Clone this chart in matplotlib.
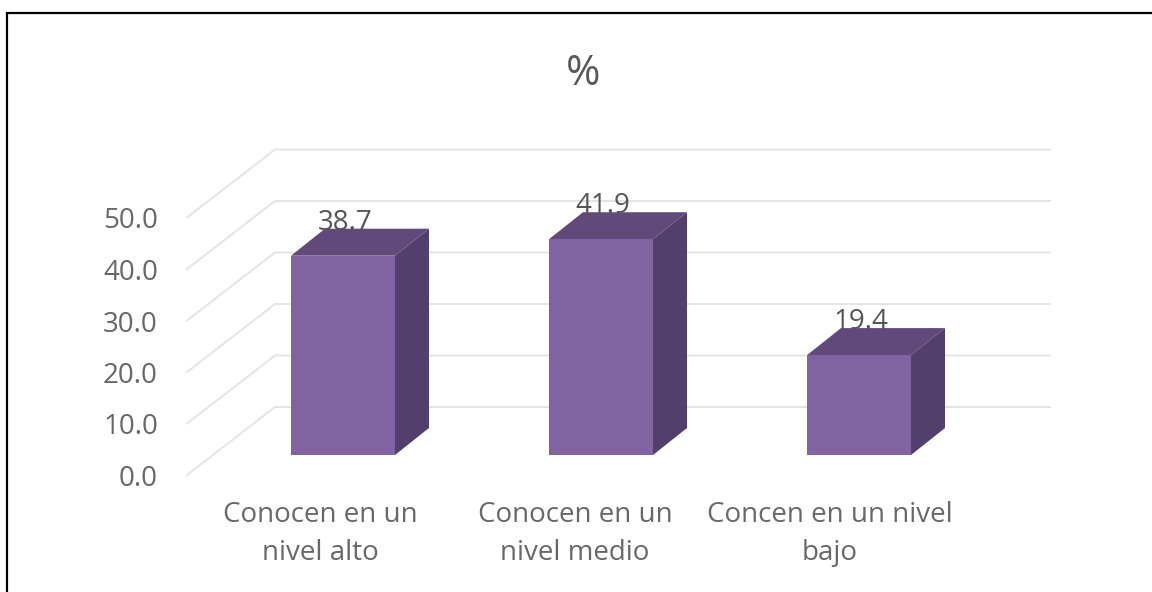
import matplotlib
matplotlib.use('Agg')
import matplotlib.pyplot as plt
from matplotlib.patches import Polygon
import numpy as np

categories = ['Conocen en un\nnivel alto', 'Conocen en un\nnivel medio', 'Concen en un nivel\nbajo']
values = [38.7, 41.9, 19.4]
y_ticks = [0, 10, 20, 30, 40, 50]
title = '%'

plt.rcParams['font.family'] = ['Open Sans', 'DejaVu Sans']

W, H = 1152, 592
PX_X = 258.0   # pixels per category
PX_Y = 5.15    # pixels per value unit
X0, Y0 = 343.0, 455.0   # first bar centre / bar base in pixels

text_col = '#686868'
grid_col = '#E4E4E4'
front_col = '#8063A0'
top_col = '#614A7A'
side_col = '#533F6B'

fig = plt.figure(figsize=(W / 100, H / 100), dpi=100)
ax = fig.add_axes([0, 0, 1, 1])
ax.set_xlim(-X0 / PX_X, (W - X0) / PX_X)
ax.set_ylim((Y0 - H) / PX_Y, Y0 / PX_Y)
ax.axis('off')

x = np.arange(len(values))
bar_w = 104 / PX_X
dx = 34 / PX_X      # bar depth
dy = 27 / PX_Y

# walls: front left corner -> back left corner -> right end
wall_x = [(187 - X0) / PX_X, (275 - X0) / PX_X, (1050 - X0) / PX_X]
front_zero = (Y0 - 475) / PX_Y
back_zero = (Y0 - 407) / PX_Y
for t in y_ticks:
    ax.plot(wall_x, [front_zero + t, back_zero + t, back_zero + t],
            color=grid_col, lw=1.4, solid_joinstyle='miter', zorder=1)
    ax.text(wall_x[0] - 29 / PX_X, front_zero + t - 4 / PX_Y, f'{t:.1f}', ha='right', va='center',
            fontsize=20, color=text_col)

# value labels sit behind the bar tops
for xi, v in zip(x, values):
    ax.text(xi + 2 / PX_X, v + 33 / PX_Y, f'{v:.1f}', ha='center', va='center',
            fontsize=20, color='#555555', zorder=2)

ax.bar(x, values, width=bar_w, color=front_col, zorder=4)
for xi, v in zip(x, values):
    r = xi + bar_w / 2
    l = xi - bar_w / 2
    ax.add_patch(Polygon([(l, v), (r, v), (r + dx, v + dy), (l + dx, v + dy)],
                         closed=True, facecolor=top_col, edgecolor='none', zorder=3))
    ax.add_patch(Polygon([(r, 0), (r + dx, dy), (r + dx, v + dy), (r, v)],
                         closed=True, facecolor=side_col, edgecolor='none', zorder=3))

# labels are spaced a bit tighter than the bars in the original
for xi, c in zip(x, categories):
    ax.text(xi * 255 / PX_X - 23 / PX_X, (Y0 - 534) / PX_Y, c, ha='center', va='center',
            fontsize=20, color=text_col, linespacing=1.45)

ax.text((583 - X0) / PX_X, (Y0 - 74) / PX_Y, title, ha='center', va='center',
        fontsize=30, color='#5A5A5A')

# outer frame only shows on the top and left
ax.plot([6.5 / W, 6.5 / W, 1], [0, 1 - 12.5 / H, 1 - 12.5 / H], transform=ax.transAxes,
        color='black', lw=1.6, clip_on=False, solid_joinstyle='miter')

fig.savefig('out.png', dpi=100)
